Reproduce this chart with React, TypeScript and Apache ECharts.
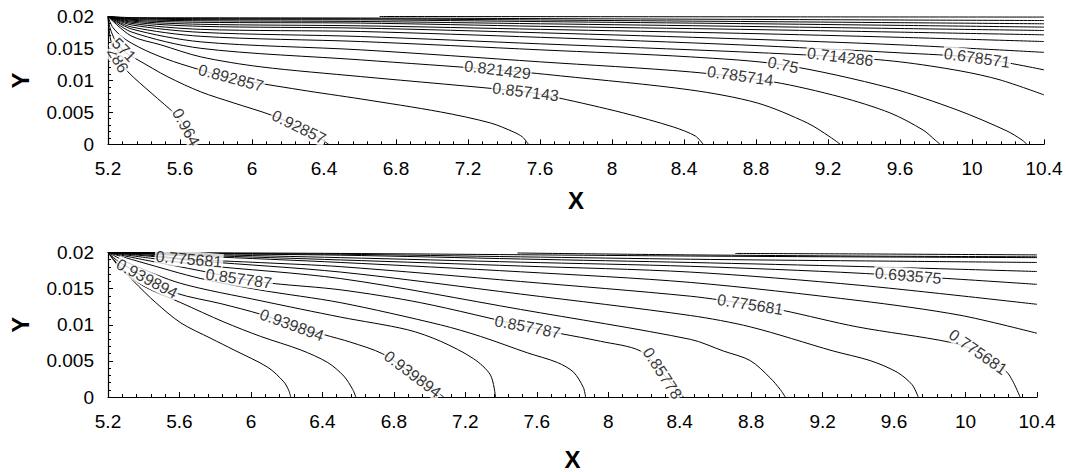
import React, { useEffect, useRef } from "react";
import * as echarts from "echarts";

const FONT = "'Liberation Sans', Arial, Helvetica, sans-serif";

// shared axis ranges
const X_MIN = 5.2;
const X_MAX = 10.4;
const X_STEP = 0.4;
const Y_MIN = 0;
const Y_MAX = 0.02;
const Y_STEP = 0.005;

// ---------- upper panel: contour lines (x, y) ----------
const T964 = [[5.2, 0.02], [5.206, 0.01792], [5.222, 0.01556], [5.255, 0.01352], [5.311, 0.01133], [5.439, 0.00806], [5.588, 0.0043], [5.638, 0.00224], [5.672, 0]];
const T929 = [[5.2, 0.02], [5.211, 0.01824], [5.244, 0.01605], [5.3, 0.01431], [5.366, 0.01321], [5.533, 0.01055], [5.716, 0.0082], [5.899, 0.00647], [6.105, 0.00459], [6.271, 0.00255], [6.382, 0.00083], [6.426, 0]];
const T893 = [[5.2, 0.02], [5.228, 0.01824], [5.3, 0.01635], [5.439, 0.01431], [5.605, 0.01257], [5.883, 0.01039], [6.271, 0.00851], [6.604, 0.0071], [7.048, 0.00506], [7.325, 0.00334], [7.453, 0.00193], [7.503, 0.00114], [7.536, 0]];
const T857 = [[5.2, 0.02], [5.328, 0.01697], [5.494, 0.01556], [5.716, 0.01368], [6.049, 0.01212], [6.604, 0.0106], [7.52, 0.0082], [7.703, 0.00726], [8.063, 0.00491], [8.341, 0.00271], [8.463, 0.0013], [8.507, 0]];
const T821 = [[5.2, 0.02], [5.328, 0.0176], [5.716, 0.01502], [6.604, 0.01321], [7.364, 0.01165], [7.714, 0.01071], [8.435, 0.00851], [8.807, 0.00647], [9.085, 0.00334], [9.212, 0.00114], [9.268, 0]];
const T786 = [[5.2, 0.02], [5.328, 0.01807], [5.716, 0.01603], [6.604, 0.01478], [7.603, 0.0129], [8.435, 0.01133], [8.896, 0.00976], [9.268, 0.00741], [9.545, 0.00491], [9.728, 0.00224], [9.795, 0.00067], [9.823, 0]];
const T750 = [[5.2, 0.02], [5.328, 0.01838], [5.716, 0.0169], [6.604, 0.01608], [7.603, 0.01478], [8.435, 0.01368], [8.951, 0.01243], [9.545, 0.00882], [9.917, 0.00538], [10.194, 0.00209], [10.278, 0.00067], [10.305, 0]];
const T714 = [[5.2, 0.02], [5.328, 0.0187], [5.716, 0.01752], [6.604, 0.01687], [7.603, 0.01572], [8.713, 0.01447], [9.268, 0.01368], [9.601, 0.0129], [9.934, 0.01149], [10.156, 0.01008], [10.4, 0.00773]];
const T679 = [[5.2, 0.02], [5.328, 0.01893], [5.716, 0.01799], [6.604, 0.01765], [7.603, 0.01674], [8.713, 0.01556], [9.601, 0.01431], [10.028, 0.01353], [10.4, 0.01165]];
const T643 = [[5.2, 0.02], [5.328, 0.01912], [5.716, 0.01846], [6.604, 0.01818], [7.603, 0.01745], [8.713, 0.0165], [9.601, 0.01556], [10.4, 0.01439]];
const T607 = [[5.2, 0.02], [5.328, 0.01928], [5.716, 0.01878], [6.604, 0.01854], [7.603, 0.01799], [8.713, 0.01737], [9.601, 0.01674], [10.4, 0.01608]];
const T571 = [[5.2, 0.02], [5.328, 0.01942], [5.716, 0.01909], [6.604, 0.01897], [7.603, 0.01846], [8.713, 0.01799], [9.601, 0.01755], [10.4, 0.01713]];
const T536 = [[5.2, 0.02], [5.328, 0.01955], [5.716, 0.01933], [6.604, 0.01922], [7.603, 0.01886], [8.713, 0.01846], [9.601, 0.01812], [10.4, 0.01781]];
const T500 = [[5.2, 0.02], [5.328, 0.01966], [5.716, 0.01951], [6.604, 0.01948], [7.603, 0.0192], [8.713, 0.01889], [9.601, 0.01861], [10.4, 0.01834]];
const T464 = [[5.2, 0.02], [5.328, 0.01975], [5.716, 0.01967], [6.604, 0.01964], [7.603, 0.01945], [8.713, 0.01922], [9.601, 0.01903], [10.4, 0.01886]];
const T429 = [[5.2, 0.02], [5.328, 0.01983], [5.716, 0.0198], [6.604, 0.01976], [7.603, 0.01967], [8.713, 0.01955], [9.601, 0.01945], [10.4, 0.01937]];
const T393 = [[6.709, 0.02], [7.936, 0.01997], [9.046, 0.01994], [10.4, 0.01991]];

const TOP_LINES = [T964, T929, T893, T857, T821, T786, T750, T714, T679, T643, T607, T571, T536, T500, T464, T429, T393];

// inline contour labels: text, position, text angle
const TOP_LABELS = [
  { text: "0.964", at: [5.633, 0.0027], angle: -61 },
  { text: "286", at: [5.255, 0.0132], angle: -60 },
  { text: "571", at: [5.289, 0.0148], angle: -45 },
  { text: "0.892857", at: [5.883, 0.0104], angle: -15 },
  { text: "0.92857", at: [6.26, 0.0027], angle: -26 },
  { text: "0.821429", at: [7.364, 0.01165], angle: -7 },
  { text: "0.857143", at: [7.52, 0.0082], angle: -7 },
  { text: "0.785714", at: [8.713, 0.0107], angle: -8 },
  { text: "0.75", at: [8.951, 0.01243], angle: -12 },
  { text: "0.714286", at: [9.268, 0.01368], angle: -7 },
  { text: "0.678571", at: [10.028, 0.01353], angle: -8 },
];

// ---------- lower panel: contour lines (x, y) ----------
const B995 = [[5.2, 0.02], [5.245, 0.01866], [5.345, 0.01599], [5.468, 0.01305], [5.608, 0.01025], [5.776, 0.00811], [5.905, 0.00651], [6.095, 0.0041], [6.184, 0.0021], [6.212, 0.0009], [6.223, 0]];
const B967 = [[5.2, 0.02], [5.273, 0.01773], [5.401, 0.01532], [5.608, 0.01305], [5.849, 0.01038], [6.055, 0.00838], [6.279, 0.00651], [6.43, 0.00477], [6.52, 0.0029], [6.57, 0.00103], [6.587, 0]];
const B940 = [[5.2, 0.02], [5.256, 0.0188], [5.412, 0.01653], [5.58, 0.01439], [5.832, 0.01292], [6.055, 0.01145], [6.229, 0.00998], [6.408, 0.00864], [6.559, 0.00758], [6.738, 0.00597], [6.905, 0.00317], [7.079, 0]];
const B913 = [[5.2, 0.02], [5.329, 0.0184], [5.608, 0.01572], [6.055, 0.01332], [6.503, 0.01105], [6.877, 0.00931], [7.062, 0.00771], [7.246, 0.0053], [7.341, 0.00303], [7.369, 0]];
const B885 = [[5.2, 0.02], [5.385, 0.01866], [5.72, 0.01639], [6.055, 0.01479], [6.503, 0.01305], [7.062, 0.00998], [7.286, 0.00838], [7.548, 0.00611], [7.716, 0.00477], [7.806, 0.00343], [7.861, 0.0013], [7.873, 0]];
const B858 = [[5.2, 0.02], [5.44, 0.0188], [5.72, 0.01746], [5.932, 0.01639], [6.123, 0.01572], [6.503, 0.01483], [6.95, 0.01305], [7.548, 0.00971], [7.733, 0.00878], [7.957, 0.00771], [8.18, 0.00637], [8.303, 0.0033], [8.421, 0]];
const B830 = [[5.2, 0.02], [5.44, 0.0192], [5.72, 0.01826], [6.503, 0.01639], [7.509, 0.01212], [8.46, 0.00798], [8.644, 0.00637], [8.795, 0.00504], [8.907, 0.00263], [8.963, 0.00103], [8.991, 0]];
const B803 = [[5.2, 0.02], [5.44, 0.01947], [5.72, 0.0188], [6.503, 0.01729], [7.509, 0.01425], [8.46, 0.01128], [8.795, 0.00971], [9.259, 0.00637], [9.466, 0.00504], [9.617, 0.00343], [9.701, 0.0017], [9.735, 0]];
const B776 = [[5.2, 0.02], [5.44, 0.0196], [5.653, 0.01907], [6.055, 0.0186], [6.503, 0.01804], [7.509, 0.01599], [8.46, 0.01395], [8.795, 0.01279], [8.98, 0.01198], [9.393, 0.00971], [9.913, 0.00758], [10.07, 0.00624], [10.232, 0.00343], [10.305, 0]];
const B748 = [[5.2, 0.02], [5.72, 0.01947], [6.503, 0.01862], [7.509, 0.01733], [8.46, 0.01586], [9.41, 0.01332], [9.969, 0.01132], [10.4, 0.00882]];
const B721 = [[5.2, 0.02], [5.72, 0.0196], [6.503, 0.01897], [7.509, 0.01813], [8.46, 0.01729], [9.41, 0.01546], [10.4, 0.01283]];
const B694 = [[5.2, 0.02], [5.72, 0.01973], [6.503, 0.01929], [7.509, 0.01866], [8.46, 0.01809], [9.41, 0.01713], [10.4, 0.01559]];
const B666 = [[5.2, 0.02], [5.72, 0.01983], [6.503, 0.01963], [7.509, 0.0191], [8.46, 0.01862], [9.41, 0.01806], [10.4, 0.01737]];
const B639 = [[5.2, 0.02], [5.72, 0.01989], [6.503, 0.01976], [7.509, 0.0194], [8.46, 0.01907], [9.41, 0.01884], [10.4, 0.01862]];
const B611 = [[5.2, 0.02], [5.72, 0.01996], [6.503, 0.01987], [7.509, 0.01969], [8.46, 0.01951], [9.41, 0.01939], [10.4, 0.01929]];
const B584 = [[7.492, 0.01993], [8.46, 0.01967], [9.41, 0.01951], [10.4, 0.0194]];
const B557 = [[8.711, 0.01987], [9.41, 0.0198], [10.4, 0.01967]];

const BOTTOM_LINES = [B995, B967, B940, B913, B885, B858, B830, B803, B776, B748, B721, B694, B666, B639, B611, B584, B557];

const BOTTOM_LABELS = [
  { text: "0.775681", at: [5.653, 0.01907], angle: -5 },
  { text: "0.857787", at: [5.932, 0.01639], angle: -8 },
  { text: "0.939894", at: [5.418, 0.01639], angle: -28 },
  { text: "0.939894", at: [6.229, 0.00998], angle: -20 },
  { text: "0.939894", at: [6.905, 0.00317], angle: -37 },
  { text: "0.857787", at: [7.548, 0.00971], angle: -11 },
  { text: "0.85778", at: [8.303, 0.0033], angle: -57 },
  { text: "0.693575", at: [9.679, 0.01679], angle: -5 },
  { text: "0.775681", at: [8.795, 0.01279], angle: -9 },
  { text: "0.775681", at: [10.07, 0.00624], angle: -35 },
];

const fmt = (v: number) => String(+v.toFixed(3));

function xAxis(gridIndex: number, nameGap: number) {
  return {
    type: "value",
    gridIndex,
    min: X_MIN,
    max: X_MAX,
    interval: X_STEP,
    axisLine: { lineStyle: { color: "#000", width: 1.2 } },
    axisTick: { inside: true, length: 5, lineStyle: { color: "#000" } },
    minorTick: { show: true, splitNumber: 5, length: 3, lineStyle: { color: "#000" } },
    splitLine: { show: false },
    axisLabel: { color: "#000", fontSize: 19, fontFamily: FONT, margin: 15, formatter: fmt },
    name: "X",
    nameLocation: "middle",
    nameGap,
    nameTextStyle: { color: "#000", fontSize: 24, fontWeight: "bold", fontFamily: FONT },
  };
}

function yAxis(gridIndex: number) {
  return {
    type: "value",
    gridIndex,
    min: Y_MIN,
    max: Y_MAX,
    interval: Y_STEP,
    axisLine: { lineStyle: { color: "#000", width: 1.2 } },
    axisTick: { inside: true, length: 5, lineStyle: { color: "#000" } },
    minorTick: { show: true, splitNumber: 5, length: 3, lineStyle: { color: "#000" } },
    splitLine: { show: false },
    axisLabel: { color: "#000", fontSize: 19, fontFamily: FONT, margin: 14, formatter: fmt },
    name: "Y",
    nameLocation: "middle",
    nameGap: 76,
    nameTextStyle: { color: "#000", fontSize: 24, fontWeight: "bold", fontFamily: FONT },
  };
}

function contourSeries(lines: number[][][], idx: number) {
  return lines.map((pts) => ({
    type: "line",
    xAxisIndex: idx,
    yAxisIndex: idx,
    data: pts,
    symbol: "none",
    smooth: 0.3,
    silent: true,
    z: 2,
    lineStyle: { color: "#000", width: 1 },
  }));
}

function labelSeries(labels: { text: string; at: number[]; angle: number }[], idx: number) {
  return {
    type: "scatter",
    xAxisIndex: idx,
    yAxisIndex: idx,
    symbolSize: 1,
    silent: true,
    z: 5,
    itemStyle: { color: "transparent" },
    label: {
      show: true,
      position: "inside",
      color: "#000",
      fontSize: 16,
      fontFamily: FONT,
      backgroundColor: "#fff",
      padding: [0, 1],
    },
    data: labels.map((l) => ({
      value: l.at,
      label: { formatter: l.text, rotate: l.angle },
    })),
  };
}

export default function App() {
  const ref = useRef<HTMLDivElement>(null);

  useEffect(() => {
    if (!ref.current) return;
    const chart = echarts.init(ref.current, undefined, { renderer: "svg" });
    chart.setOption({
      animation: false,
      backgroundColor: "#fff",
      grid: [
        { left: 107, top: 16.5, width: 937, height: 127.8 },
        { left: 107, top: 252.5, width: 930, height: 150.2 },
      ],
      xAxis: [xAxis(0, 44), xAxis(1, 50)],
      yAxis: [yAxis(0), yAxis(1)],
      series: [
        ...contourSeries(TOP_LINES, 0),
        labelSeries(TOP_LABELS, 0),
        ...contourSeries(BOTTOM_LINES, 1),
        labelSeries(BOTTOM_LABELS, 1),
      ],
    });
    return () => chart.dispose();
  }, []);

  return (
    <div
      ref={ref}
      style={{ position: "absolute", left: 0, top: 0, width: 1066, height: 472, background: "#fff" }}
    />
  );
}
